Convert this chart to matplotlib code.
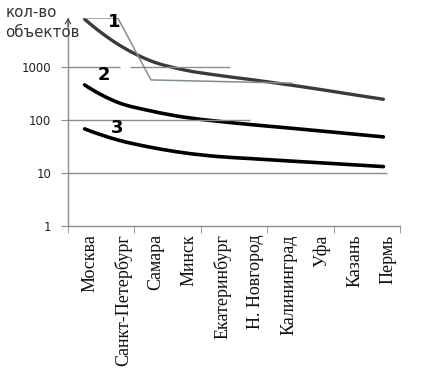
import numpy as np
import matplotlib.pyplot as plt
import matplotlib.transforms as mtransforms
from matplotlib.path import Path
from matplotlib.patches import PathPatch

cities = ["Москва", "Санкт-Петербург", "Самара", "Минск", "Екатеринбург",
          "Н. Новгород", "Калининград", "Уфа", "Казань", "Пермь"]

# three fitted curves (log scale)
curve1 = [8000, 2700, 1300, 880, 700, 580, 475, 385, 307, 246]
curve2 = [460, 215, 148, 113, 95, 82, 72, 63, 55, 48]
curve3 = [68, 42, 30.5, 24, 20.5, 18.7, 17.1, 15.7, 14.4, 13.2]

# thin grey broken line
grey_x = [0, 1, 2, 6.25]
grey_vals = [8400, 8400, 570, 495]

yticks = [1, 10, 100, 1000]


def smooth_path(xs, ys):
    # catmull-rom -> bezier, done in log space
    p = np.column_stack([np.asarray(xs, float), np.log10(ys)])
    first = 3 * p[0] - 3 * p[1] + p[2]
    last = 3 * p[-1] - 3 * p[-2] + p[-3]
    pts = np.vstack([first, p, last])
    verts = [p[0]]
    codes = [Path.MOVETO]
    for i in range(1, len(pts) - 2):
        c1 = pts[i] + (pts[i + 1] - pts[i - 1]) / 6.0
        c2 = pts[i + 1] - (pts[i + 2] - pts[i]) / 6.0
        verts += [c1, c2, pts[i + 1]]
        codes += [Path.CURVE4] * 3
    verts = np.array(verts)
    verts[:, 1] = 10 ** verts[:, 1]
    return Path(verts, codes)


fig = plt.figure(figsize=(4.44, 3.76), dpi=100)
ax = fig.add_axes([68/444, 150/376, 332/444, 208/376])
ax.set_yscale('log')
ax.set_xlim(-0.5, 9.5)
ax.set_ylim(1, 8400)

gcol = '#8c8c8c'
# partial grid lines as in the picture
ax.hlines(1000, -0.5, 1.07, color=gcol, lw=1)
ax.hlines(1000, 1.37, 4.38, color=gcol, lw=1)
ax.hlines(100, -0.5, 4.98, color=gcol, lw=1)
ax.hlines(10, -0.5, 9.1, color=gcol, lw=1)

ax.plot(grey_x, grey_vals, color='#7f8f8f', lw=1.1)

x = np.arange(len(cities))
for vals, col, lw in [(curve1, '#3a3a3a', 2.4), (curve2, 'black', 2.6), (curve3, 'black', 2.6)]:
    ax.add_patch(PathPatch(smooth_path(x, vals), fill=False, edgecolor=col, lw=lw,
                           capstyle='round', transform=ax.transData))

for s in ['top', 'right']:
    ax.spines[s].set_visible(False)
for s in ['left', 'bottom']:
    ax.spines[s].set_color(gcol)
    ax.spines[s].set_linewidth(1)

ax.set_yticks(yticks)
ax.set_yticklabels([str(v) for v in yticks], fontsize=8.5, color='#222222')
ax.yaxis.set_minor_locator(plt.NullLocator())
ax.tick_params(axis='y', length=5, color=gcol, pad=7)

ax.set_xticks(x)
ax.set_xticklabels(cities, rotation=90, fontsize=13, family='Liberation Serif', color='#111111')
ax.set_xticks(np.arange(-0.5, 10, 2), minor=True)
ax.tick_params(axis='x', which='major', length=0, pad=6)
ax.tick_params(axis='x', which='minor', length=5, color=gcol)
shift = mtransforms.ScaledTranslation(5/100, 0, fig.dpi_scale_trans)
for lab in ax.get_xticklabels():
    lab.set_transform(lab.get_transform() + shift)

# arrow at top of y axis
ax.annotate('', xy=(-0.5, 9500), xytext=(-0.5, 5000),
            arrowprops=dict(arrowstyle='->,head_length=0.35,head_width=0.2',
                            color='#444444', lw=0.8), annotation_clip=False)

# curve numbers
ax.text(0.89, 7000, '1', fontsize=13, fontweight='bold', ha='center', va='center')
ax.text(0.58, 700, '2', fontsize=13, fontweight='bold', ha='center', va='center')
ax.text(0.98, 70, '3', fontsize=13, fontweight='bold', ha='center', va='center')

fig.text(6/444, 1 - 17/376, 'кол-во', fontsize=10.8, color='#333333', ha='left', va='baseline')
fig.text(5/444, 1 - 37/376, 'объектов', fontsize=10.8, color='#333333', ha='left', va='baseline')

fig.savefig('out.png', dpi=100)
